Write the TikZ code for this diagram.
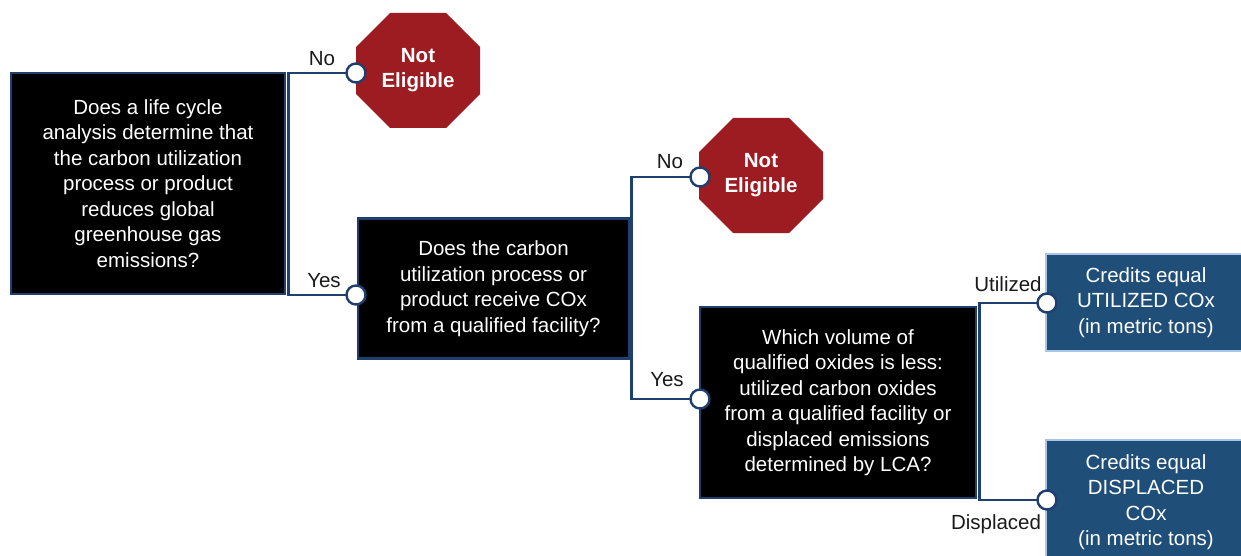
\documentclass[tikz,border=0pt]{standalone}
\usepackage{fontspec}
\setmainfont{Liberation Sans}
\usetikzlibrary{backgrounds}

\definecolor{navy}{HTML}{1F3F6E}
\definecolor{stopred}{HTML}{9C1C22}
\definecolor{credblue}{HTML}{1F4E79}
\definecolor{crededge}{HTML}{A9C4E4}
\definecolor{labelgray}{HTML}{1A1A1A}

% fills an octagon over the bounding box of a node, with corner cut c
\newcommand{\octagonfill}[2]{%
  \fill[stopred] ([xshift=#2]#1.north west) -- ([xshift=-#2]#1.north east)
    -- ([yshift=-#2]#1.north east) -- ([yshift=#2]#1.south east)
    -- ([xshift=-#2]#1.south east) -- ([xshift=#2]#1.south west)
    -- ([yshift=#2]#1.south west) -- ([yshift=-#2]#1.north west) -- cycle;}

\begin{document}
\begin{tikzpicture}[x=1pt,y=-1pt,
  txt/.style={font=\fontsize{20.5}{25.5}\selectfont, align=center},
  question/.style={txt, draw=navy, line width=2.5pt, fill=black, text=white, inner sep=0pt},
  stopsign/.style={rectangle, text=white, font=\fontsize{20.5}{25}\selectfont\bfseries, align=center,
    minimum width=124pt, minimum height=115pt, inner sep=0pt, outer sep=0pt},
  credit/.style={txt, draw=crededge, line width=1.2pt, fill=credblue, text=white, inner sep=0pt},
  dot/.style={circle, draw=navy, line width=2.4pt, fill=white, minimum size=19pt, inner sep=0pt},
  conn/.style={draw=navy, line width=2.6pt},
  lbl/.style={txt, text=labelgray, inner sep=0pt}]

\useasboundingbox (0,0) rectangle (1241,556);

% decision boxes
\node[question, minimum width=274pt, minimum height=221pt] (b1) at (148,183.5)
  {Does a life cycle\\analysis determine that\\the carbon utilization\\process or product\\reduces global\\greenhouse gas\\emissions?};
\node[question, minimum width=271pt, minimum height=140pt] (b2) at (493.5,288.5)
  {Does the carbon\\utilization process or\\product receive COx\\from a qualified facility?};
\node[question, minimum width=276pt, minimum height=191pt] (b3) at (838,402.5)
  {Which volume of\\qualified oxides is less:\\utilized carbon oxides\\from a qualified facility or\\displaced emissions\\determined by LCA?};

% outcomes
\node[stopsign] (ne1) at (418,70.5) {Not\\Eligible};
\node[stopsign] (ne2) at (761,175.5) {Not\\Eligible};
\node[credit, minimum width=200pt, minimum height=97pt] (cr1) at (1146,302.5)
  {Credits equal\\UTILIZED COx\\(in metric tons)};
\node[credit, minimum width=200pt, minimum height=124pt] (cr2) at (1146,502)
  {Credits equal\\DISPLACED\\COx\\(in metric tons)};

% connector end points
\node[dot] (c1) at (356,73) {};
\node[dot] (c2) at (356,295) {};
\node[dot] (c3) at (700,177) {};
\node[dot] (c4) at (700,399) {};
\node[dot] (c5) at (1047,303) {};
\node[dot] (c6) at (1047,500) {};

% branch labels
\node[lbl] (l1) at (322,59) {No};
\node[lbl] (l2) at (324,281) {Yes};
\node[lbl] (l3) at (670,162) {No};
\node[lbl] (l4) at (667,380) {Yes};
\node[lbl] (l5) at (1008,284) {Utilized};
\node[lbl] (l6) at (996,524) {Displaced};

% stop signs and elbow connectors behind the nodes
\begin{scope}[on background layer]
  \fill[white] (0,0) rectangle (1241,556);
  \octagonfill{ne1}{34pt}
  \octagonfill{ne2}{34pt}
  \draw[conn] (c1.center) -| ([xshift=2pt]b1.east) |- (c2.center);
  \draw[conn] (c3.center) -| ([xshift=1.5pt]b2.east) |- (c4.center);
  \draw[conn] (c5.center) -| ([xshift=2pt]b3.east) |- (c6.center);
\end{scope}
\end{tikzpicture}
\end{document}
